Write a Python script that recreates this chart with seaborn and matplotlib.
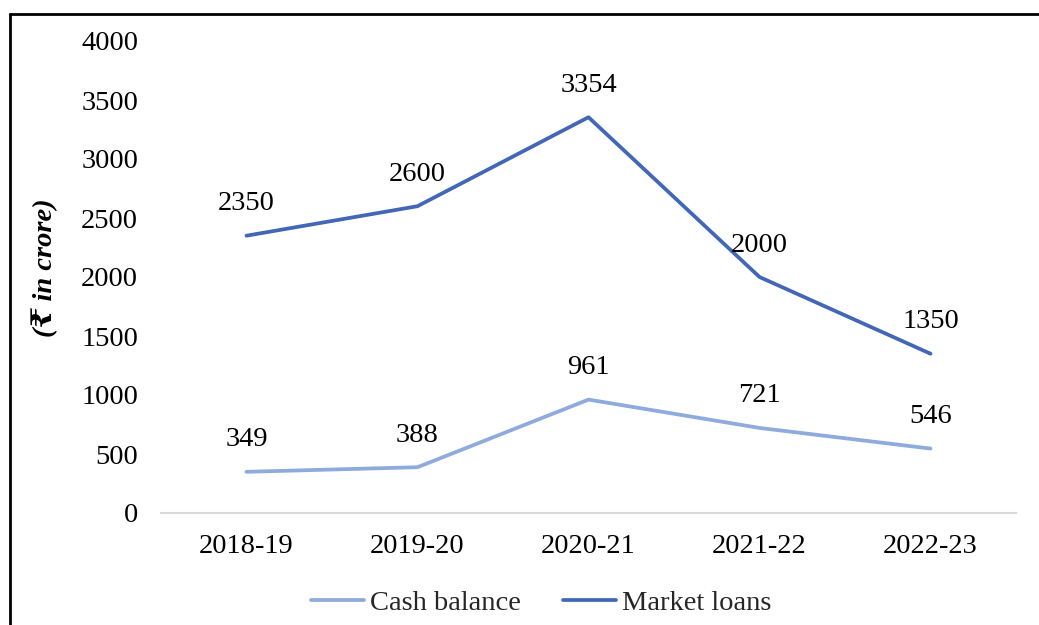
import matplotlib
matplotlib.use("Agg")
import matplotlib.pyplot as plt
from matplotlib.lines import Line2D
import seaborn as sns
import pandas as pd

years = ["2018-19", "2019-20", "2020-21", "2021-22", "2022-23"]
cash_balance = [349, 388, 961, 721, 546]
market_loans = [2350, 2600, 3354, 2000, 1350]
y_ticks = [0, 500, 1000, 1500, 2000, 2500, 3000, 3500, 4000]

sns.set_theme(style="white")
plt.rcParams['font.family'] = ['Liberation Serif', 'DejaVu Serif', 'DejaVu Sans']

df = pd.DataFrame({
    "year": years * 2,
    "value": cash_balance + market_loans,
    "series": ["Cash balance"] * len(years) + ["Market loans"] * len(years),
})
df["x"] = list(range(len(years))) * 2

colors = {"Cash balance": "#8FAADC", "Market loans": "#4167B6"}
FS = 20.5

fig = plt.figure(figsize=(10.39, 6.25), dpi=100)
ax = fig.add_axes([161 / 1039, 1 - 513 / 625, (1016 - 161) / 1039, (513 - 41) / 625])

sns.lineplot(data=df, x="x", y="value", hue="series", palette=colors,
             linewidth=2.7, ax=ax, legend=False)

for s, vals in [("Cash balance", cash_balance), ("Market loans", market_loans)]:
    for i, v in enumerate(vals):
        ax.annotate(str(v), (i, v), xytext=(0, 23), textcoords="offset points",
                    ha="center", va="center", fontsize=FS, color="#000000")

ax.set_xlim(-0.5, len(years) - 0.5)
ax.set_ylim(0, 4000)
ax.set_yticks(y_ticks)
ax.set_yticklabels([str(t) for t in y_ticks], fontsize=FS)
ax.set_xticks(range(len(years)))
ax.set_xticklabels(years, fontsize=FS)
ax.tick_params(axis="both", length=0, colors="#000000")
ax.tick_params(axis="x", pad=15)
ax.tick_params(axis="y", pad=16.5)
for sp in ["top", "right", "left"]:
    ax.spines[sp].set_visible(False)
ax.spines["bottom"].set_color("#D9D9D9")
ax.spines["bottom"].set_linewidth(1.5)
ax.set_xlabel("")
ax.set_ylabel("")

fig.text(45 / 1039, 1 - 268 / 625, "(₹ in crore)", rotation=90, ha="center", va="center",
         fontsize=FS, fontweight="bold", fontstyle="italic", color="#000000")

handles = [Line2D([0], [0], color=colors["Cash balance"], lw=2.7),
           Line2D([0], [0], color=colors["Market loans"], lw=2.7)]
fig.legend(handles, ["Cash balance", "Market loans"], loc="center",
           bbox_to_anchor=(0.521, 1 - 603 / 625), ncol=2, frameon=False,
           fontsize=FS, handlelength=1.85, handletextpad=0.2, columnspacing=1.5)

# outer frame (top and left visible)
fig.add_artist(Line2D([10 / 1039, 10 / 1039], [0, 1 - 14 / 625], color="black", lw=2,
                      transform=fig.transFigure))
fig.add_artist(Line2D([10 / 1039, 1], [1 - 14 / 625, 1 - 14 / 625], color="black", lw=2,
                      transform=fig.transFigure))

fig.savefig("out.png", dpi=100)
